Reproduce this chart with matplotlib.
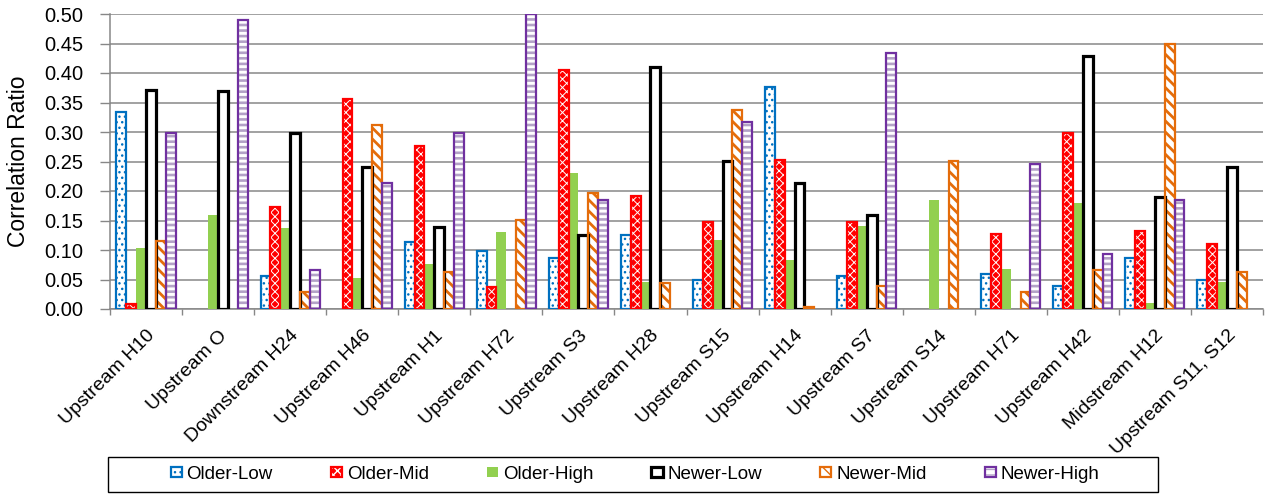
import numpy as np
import matplotlib
matplotlib.use("Agg")
import matplotlib.pyplot as plt
from matplotlib.patches import Rectangle
from matplotlib.legend_handler import HandlerTuple

plt.rcParams["font.family"] = ["Liberation Sans", "DejaVu Sans"]

# ---- data -------------------------------------------------------------
categories = [
    "Upstream H10", "Upstream O", "Downstream H24", "Upstream H46",
    "Upstream H1", "Upstream H72", "Upstream S3", "Upstream H28",
    "Upstream S15", "Upstream H14", "Upstream S7", "Upstream S14",
    "Upstream H71", "Upstream H42", "Midstream H12", "Upstream S11, S12",
]
series_names = ["Older-Low", "Older-Mid", "Older-High",
                "Newer-Low", "Newer-Mid", "Newer-High"]

older_low = [0.334, None, 0.056, None, 0.113, 0.099, 0.086, 0.125,
             0.049, 0.376, 0.056, None, 0.059, 0.039, 0.087, 0.049]
older_mid = [0.008, None, 0.173, 0.356, 0.276, 0.038, 0.405, 0.192,
             0.147, 0.253, 0.147, None, 0.127, 0.299, 0.132, 0.111]
older_high = [0.103, 0.160, 0.137, 0.053, 0.077, 0.130, 0.231, 0.045,
              0.117, 0.083, 0.141, 0.184, 0.067, 0.180, 0.010, 0.046]
newer_low = [0.371, 0.370, 0.299, 0.240, 0.139, None, 0.125, 0.410,
             0.251, 0.214, 0.159, None, None, 0.428, 0.190, 0.240]
newer_mid = [0.115, None, 0.028, 0.312, 0.062, 0.151, 0.196, 0.044,
             0.338, 0.004, 0.039, 0.251, 0.028, 0.066, 0.450, 0.062]
newer_high = [0.298, 0.489, 0.066, 0.214, 0.298, 0.500, 0.184, None,
              0.317, None, 0.434, None, 0.246, 0.093, 0.185, None]

y_ticks = [0.00, 0.05, 0.10, 0.15, 0.20, 0.25, 0.30, 0.35, 0.40, 0.45, 0.50]

series_values = [older_low, older_mid, older_high,
                 newer_low, newer_mid, newer_high]

# ---- styles: fill, hatch, hatch colour/width, outline colour/width --------
styles = [
    dict(fill="white", hatch="...", hcolor="#0070C0", hlw=1.0, edge="#0070C0", lw=1.6),
    dict(fill="#FF0000", hatch="xxxx", hcolor="white", hlw=0.7, edge="#FF0000", lw=1.6),
    dict(fill="#92D050", hatch=None, hcolor=None, hlw=1.0, edge=None, lw=0),
    dict(fill="white", hatch=None, hcolor=None, hlw=1.0, edge="black", lw=2.3),
    dict(fill="white", hatch="\\\\\\", hcolor="#E46C0A", hlw=2.0, edge="#E46C0A", lw=1.6),
    dict(fill="white", hatch="---", hcolor="#B3A2C7", hlw=1.9, edge="#7030A0", lw=1.6),
]

W, H = 1269, 496
fig = plt.figure(figsize=(W / 100, H / 100), dpi=100)
ax = fig.add_axes([110 / W, 1 - 309 / H, (1263 - 110) / W, (309 - 14) / H])

n_groups = len(categories)
n_series = len(series_values)
x = np.arange(n_groups)
bar_w = 0.82 / n_series


def apply_hatch_width(patches, hlw):
    for p in patches:
        if hasattr(p, "set_hatch_linewidth"):
            p.set_hatch_linewidth(hlw)


legend_handles = []
for i, (vals, st) in enumerate(zip(series_values, styles)):
    v = np.array([np.nan if a is None else a for a in vals], dtype=float)
    mask = ~np.isnan(v)
    xs = x[mask] + (i - (n_series - 1) / 2) * bar_w
    hs = v[mask]
    with plt.rc_context({"hatch.linewidth": st["hlw"]}):
        # filled / hatched body
        body = ax.bar(xs, hs, width=bar_w, color=st["fill"],
                      edgecolor=st["hcolor"] if st["hatch"] else "none",
                      hatch=st["hatch"], linewidth=0, zorder=3)
        apply_hatch_width(body, st["hlw"])
        h_body = Rectangle((0, 0), 1, 1, facecolor=st["fill"],
                           edgecolor=st["hcolor"] if st["hatch"] else "none",
                           hatch=st["hatch"], linewidth=0)
        apply_hatch_width([h_body], st["hlw"])
    if st["edge"]:
        ax.bar(xs, hs, width=bar_w, facecolor="none", edgecolor=st["edge"],
               linewidth=st["lw"], zorder=4)
        h_edge = Rectangle((0, 0), 1, 1, facecolor="none",
                           edgecolor=st["edge"], linewidth=st["lw"])
        legend_handles.append((h_body, h_edge))
    else:
        legend_handles.append((h_body,))

# ---- axes styling ------------------------------------------------------
grid_c = "#878787"
ax.set_ylim(0, 0.5)
ax.set_xlim(-0.5, n_groups - 0.5)
ax.set_yticks(y_ticks)
ax.set_yticklabels([f"{t:.2f}" for t in y_ticks], fontsize=14.5)
ax.yaxis.grid(True, color=grid_c, linewidth=1.1, zorder=0)
ax.set_axisbelow(True)
ax.tick_params(axis="y", length=7, width=1.0, color=grid_c, pad=12)

ax.set_xticks(x)
ax.set_xticklabels(categories, rotation=45, ha="right",
                   rotation_mode="anchor", fontsize=14)
ax.set_xticks(np.arange(n_groups + 1) - 0.5, minor=True)
ax.tick_params(axis="x", which="major", length=0, pad=13)
ax.tick_params(axis="x", which="minor", length=4, width=1.0, color=grid_c)

for side in ("top", "right"):
    ax.spines[side].set_visible(False)
for side in ("left", "bottom"):
    ax.spines[side].set_color(grid_c)
    ax.spines[side].set_linewidth(1.1)

ax.set_ylabel("Correlation Ratio", fontsize=16.5, va="center")
ax.yaxis.set_label_coords(-(110 - 19) / (1263 - 110), 0.5)

# ---- legend ------------------------------------------------------------
fig.patches.append(Rectangle((108 / W, 1 - 492 / H), (1158 - 108) / W, 35 / H,
                             transform=fig.transFigure, fill=False,
                             edgecolor="black", linewidth=1.0))
leg = fig.legend(legend_handles, series_names, ncol=6, frameon=False,
                 loc="center", bbox_to_anchor=(635 / W, 1 - 474.5 / H),
                 fontsize=13.5, handlelength=0.6, handleheight=0.45,
                 handletextpad=0.25, columnspacing=3.1,
                 handler_map={tuple: HandlerTuple(ndivide=1, pad=0)})

fig.savefig("out.png", dpi=100)
